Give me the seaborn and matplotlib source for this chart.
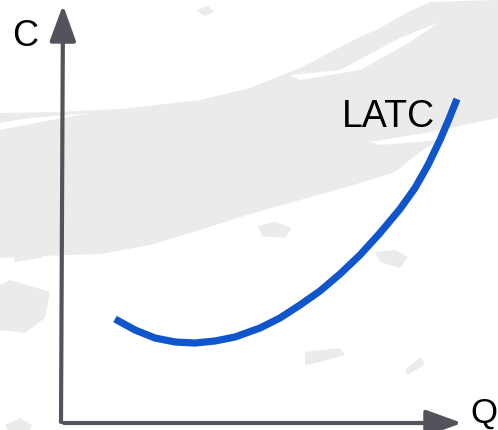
import numpy as np
import matplotlib
matplotlib.use('Agg')
import matplotlib.pyplot as plt
import seaborn as sns
import pandas as pd

# LATC curve (Q along the bottom axis, C up the side)
q_vals = [53, 73, 93, 113, 133, 153, 173, 198, 218, 238, 258, 278, 298, 318, 338, 353, 366, 378, 387, 395]
latc_vals = [104, 93, 85, 81, 80, 82, 86, 95, 105, 118, 132, 149, 168, 190, 214, 235, 258, 283, 304, 324]
curve_label = 'LATC'
x_label = 'Q'
y_label = 'C'

# gray brush strokes in the background (pixel space of the picture)
brush_main = [(0, 113), (60, 112), (120, 109), (200, 100), (250, 88), (300, 68), (350, 42),
              (400, 16), (430, 2), (498, 0), (498, 118), (470, 128), (440, 140), (420, 152),
              (395, 172), (350, 186), (300, 200), (250, 214), (200, 230), (150, 245),
              (100, 254), (40, 256), (0, 258)]
brush_gaps = [
    [(245, 68), (300, 58), (360, 30), (420, 5), (380, 28), (320, 55), (270, 72)],
    [(290, 75), (340, 70), (400, 38), (440, 22), (410, 42), (360, 70), (300, 80)],
    [(0, 123), (30, 118), (90, 113), (40, 122), (0, 130)],
    [(370, 142), (430, 132), (498, 118), (498, 128), (440, 140), (380, 145)],
]
brush_blobs = [
    [(10, 280), (50, 292), (45, 318), (25, 333), (0, 330), (0, 285)],
    [(12, 252), (40, 244), (55, 250), (40, 258), (15, 262)],
    [(258, 226), (275, 222), (292, 228), (285, 238), (262, 236)],
    [(375, 252), (395, 250), (408, 257), (400, 268), (380, 262)],
    [(305, 352), (340, 348), (345, 355), (320, 362), (305, 365)],
    [(405, 370), (420, 357), (425, 364), (408, 375)],
    [(5, 425), (20, 418), (32, 425), (30, 430), (8, 430)],
    [(196, 10), (208, 6), (214, 12), (205, 16)],
]

x0, y0 = 62, 423  # axis corner in the picture


def to_data(pts):
    return [(x - x0, y0 - y) for x, y in pts]


fig = plt.figure(figsize=(4.98, 4.30), dpi=100)
ax = fig.add_axes([0, 0, 1, 1])
ax.set_xlim(-x0, 498 - x0)
ax.set_ylim(y0 - 430, y0)
ax.axis('off')

bg = '#ebebeb'
ax.add_patch(plt.Polygon(to_data(brush_main), color=bg, lw=0, zorder=0))
for g in brush_gaps:
    ax.add_patch(plt.Polygon(to_data(g), color='white', lw=0, zorder=0.5))
for b in brush_blobs:
    ax.add_patch(plt.Polygon(to_data(b), color=bg, lw=0, zorder=0.6))

axis_col = '#52535b'
arrow = dict(arrowstyle='-|>,head_length=2.2,head_width=0.8', mutation_scale=10,
             color=axis_col, lw=3, shrinkA=0, shrinkB=0)
ax.annotate('', xy=(1, 418), xytext=(-1, 1), arrowprops=arrow, zorder=2)
ax.annotate('', xy=(400, 0), xytext=(2, 0), arrowprops=arrow, zorder=2)

df = pd.DataFrame({'Q': q_vals, 'C': latc_vals})
sns.lineplot(data=df, x='Q', y='C', sort=False, ax=ax, color='#1155cc',
             linewidth=5.2, zorder=3)
ax.lines[-1].set_solid_capstyle('butt')
ax.lines[-1].set_solid_joinstyle('round')

font = 'Liberation Sans'
ax.text(-50, 387, y_label, fontsize=26, family=font, ha='left', va='center')
ax.text(280, 306, curve_label, fontsize=27, family=font, ha='left', va='center')
ax.text(408, 10, x_label, fontsize=25, family=font, ha='left', va='center')

fig.savefig('out.png', dpi=100)
